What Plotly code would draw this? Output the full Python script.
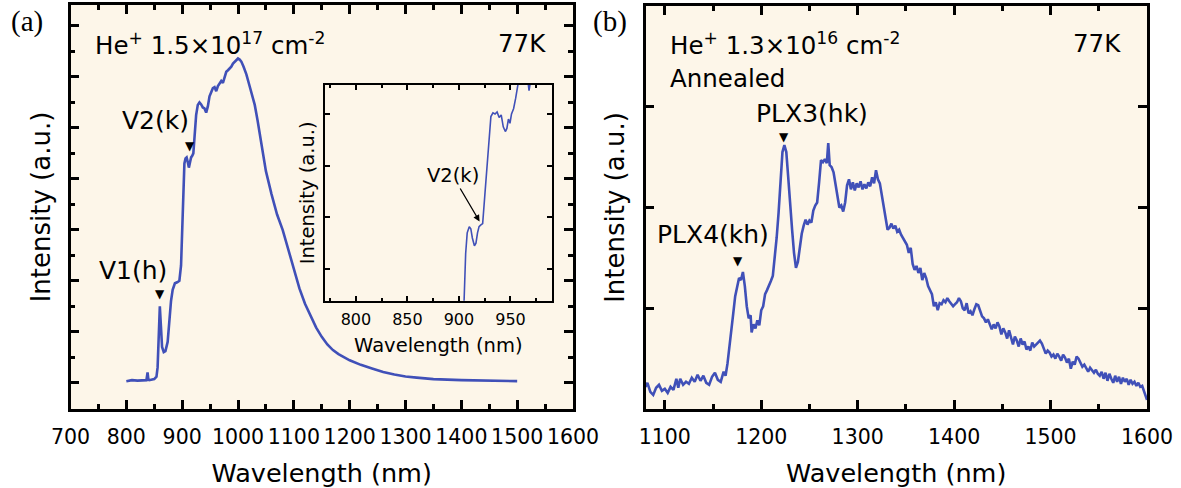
import plotly.graph_objects as go

# ---------------- data: panel (a) main spectrum ----------------
wl_a = [800, 810, 820, 830, 836, 838, 839.5, 841, 845, 850, 854, 856, 858, 860, 862, 864,
        867, 870, 874, 877, 880, 883, 887, 891, 895, 898, 900, 902, 904, 906, 908, 910,
        912, 914, 916, 918, 920, 922, 925, 928, 931, 934, 937, 940, 943, 946, 949, 952,
        955, 958, 961, 964, 967, 970, 973, 976, 979, 982, 985, 988, 991, 994, 997, 1000,
        1003, 1006, 1010, 1015, 1020, 1025, 1030, 1035, 1040, 1045, 1050, 1060, 1070, 1080,
        1090, 1100, 1110, 1120, 1130, 1140, 1150, 1160, 1170, 1180, 1200, 1220, 1240, 1260,
        1280, 1300, 1320, 1350, 1400, 1450, 1500]
int_a = [0.03, 0.05, 0.04, 0.05, 0.05, 0.20, 0.06, 0.05, 0.06, 0.07, 0.12, 0.30, 0.90, 1.50, 1.10, 0.70,
         0.60, 0.62, 0.80, 1.30, 1.60, 1.82, 1.95, 1.97, 2.00, 2.30, 3.00, 3.80, 4.30, 4.40, 4.42, 4.33,
         4.22, 4.32, 4.42, 4.45, 4.50, 4.80, 5.25, 5.45, 5.50, 5.46, 5.40, 5.38, 5.30, 5.42, 5.62, 5.70,
         5.78, 5.80, 5.72, 5.82, 5.86, 5.92, 5.88, 6.00, 6.10, 6.13, 6.16, 6.20, 6.26, 6.30, 6.32, 6.36,
         6.34, 6.30, 6.20, 6.05, 5.85, 5.65, 5.45, 5.15, 4.80, 4.50, 4.15, 3.70, 3.30, 3.00,
         2.60, 2.20, 1.85, 1.55, 1.30, 1.08, 0.90, 0.75, 0.64, 0.56, 0.44, 0.35, 0.28, 0.21,
         0.16, 0.12, 0.10, 0.07, 0.05, 0.04, 0.03]

# ---------------- data: inset of panel (a) ----------------
wl_in = [895, 900, 903, 905, 906.5, 908, 910, 911.5, 913, 915, 916.5, 918, 919.5, 921, 923,
         925, 927, 929, 931, 933, 935, 937, 939, 941, 943, 945, 946.5, 948, 949.5, 951, 953,
         955, 957, 960, 963, 966, 968, 970, 973, 976, 980, 985, 990]
int_in = [-2.0, -1.0, -0.3, 0.4, 1.3, 1.70, 1.82, 1.78, 1.60, 1.45, 1.50, 1.70, 1.82, 1.85, 1.88,
          2.40, 2.90, 3.50, 3.95, 4.02, 4.00, 4.04, 3.93, 3.98, 3.75, 3.66, 3.72, 3.90, 3.82, 4.00, 4.10,
          4.30, 4.56, 4.90, 5.00, 4.80, 4.45, 4.70, 4.90, 5.00, 5.10, 5.20, 5.30]

# ---------------- data: panel (b) ----------------
wl_b = [1080, 1082, 1085, 1088, 1091, 1094, 1097, 1100, 1103, 1106, 1109, 1112, 1114, 1116, 1119,
        1122, 1125, 1128, 1131, 1134, 1137, 1140, 1143, 1146, 1149, 1152, 1155, 1158, 1161, 1163,
        1165, 1167, 1169, 1171, 1173, 1175, 1177, 1179, 1181, 1183, 1185, 1187, 1189, 1190, 1192,
        1194, 1196, 1198, 1200, 1202, 1204, 1206, 1208, 1210, 1212, 1214, 1216, 1218, 1220, 1222,
        1224, 1226, 1228, 1230, 1232, 1234, 1236, 1238, 1240, 1242, 1244, 1246, 1248, 1250, 1252,
        1254, 1256, 1258, 1260, 1262, 1264, 1266, 1268, 1269.5, 1271, 1273, 1275, 1277, 1279, 1281,
        1283, 1285, 1287, 1289, 1291, 1293, 1295, 1297, 1299, 1301, 1303, 1305, 1307, 1309, 1311,
        1313, 1315, 1317, 1319, 1321, 1323, 1325, 1327, 1329, 1331, 1333, 1335, 1337, 1339, 1341,
        1343, 1345, 1347, 1349, 1351, 1353, 1355, 1357, 1359, 1361, 1363, 1365, 1367, 1369, 1371,
        1373, 1375, 1377, 1379, 1381, 1383, 1385, 1387, 1389, 1391, 1393, 1395, 1397, 1399, 1401,
        1403, 1405, 1407, 1409, 1411, 1413, 1415, 1417, 1419, 1421, 1423, 1425, 1427, 1429, 1431,
        1433, 1435, 1437, 1439, 1441, 1443, 1445, 1447, 1449, 1451, 1453, 1455, 1457, 1459, 1461,
        1463, 1465, 1467, 1469, 1471, 1473, 1475, 1477, 1479, 1481, 1483, 1485, 1487, 1489, 1491,
        1493, 1495, 1497, 1499, 1501, 1503, 1505, 1507, 1509, 1511, 1513, 1515, 1517, 1519, 1521,
        1523, 1525, 1527, 1529, 1531, 1533, 1535, 1537, 1539, 1541, 1543, 1545, 1547, 1549, 1551,
        1553, 1555, 1557, 1559, 1561, 1563, 1565, 1567, 1569, 1571, 1573, 1575, 1577, 1579, 1581,
        1583, 1585, 1587, 1589, 1591, 1593, 1595, 1597, 1599, 1600]
int_b = [0.22, 0.26, 0.17, 0.14, 0.21, 0.24, 0.18, 0.20, 0.16, 0.22, 0.19, 0.30, 0.21, 0.30, 0.24,
         0.27, 0.25, 0.31, 0.27, 0.34, 0.28, 0.33, 0.26, 0.24, 0.32, 0.36, 0.29, 0.27, 0.37, 0.33,
         0.45, 0.60, 0.76, 0.95, 1.12, 1.22, 1.30, 1.28, 1.36, 1.22, 1.02, 0.90, 0.93, 0.76, 0.84,
         0.80, 0.88, 0.83, 0.98, 1.02, 1.14, 1.18, 1.22, 1.27, 1.32, 1.48, 1.70, 1.95, 2.30, 2.55,
         2.62, 2.55, 2.30, 2.00, 1.78, 1.55, 1.40, 1.46, 1.62, 1.74, 1.82, 1.88, 1.83, 1.87, 1.85,
         1.97, 2.02, 2.05, 2.25, 2.47, 2.45, 2.48, 2.44, 2.64, 2.42, 2.40, 2.35, 2.22, 2.08, 2.00,
         2.02, 1.96, 2.05, 2.22, 2.28, 2.18, 2.25, 2.17, 2.24, 2.20, 2.26, 2.18, 2.23, 2.19, 2.25,
         2.21, 2.30, 2.24, 2.37, 2.28, 2.24, 2.12, 2.02, 1.92, 1.78, 1.80, 1.84, 1.79, 1.82, 1.76,
         1.78, 1.73, 1.70, 1.66, 1.63, 1.55, 1.60, 1.44, 1.38, 1.42, 1.35, 1.40, 1.28, 1.35, 1.30,
         1.22, 1.18, 1.14, 1.02, 1.06, 0.98, 1.05, 1.04, 1.08, 1.06, 1.10, 1.07, 1.05, 1.02, 1.04,
         1.06, 1.10, 1.07, 1.00, 0.98, 1.05, 0.95, 0.97, 0.93, 0.99, 1.04, 1.03, 0.98, 0.92, 0.90,
         0.86, 0.89, 0.84, 0.79, 0.84, 0.80, 0.86, 0.82, 0.74, 0.80, 0.76, 0.70, 0.78, 0.72, 0.64,
         0.72, 0.68, 0.62, 0.70, 0.64, 0.67, 0.59, 0.62, 0.58, 0.66, 0.62, 0.64, 0.67, 0.68, 0.65,
         0.60, 0.55, 0.58, 0.56, 0.52, 0.54, 0.50, 0.55, 0.52, 0.48, 0.54, 0.51, 0.46, 0.50, 0.40,
         0.47, 0.44, 0.52, 0.50, 0.45, 0.42, 0.44, 0.40, 0.37, 0.41, 0.38, 0.36, 0.39, 0.35, 0.33,
         0.37, 0.30, 0.36, 0.28, 0.35, 0.30, 0.26, 0.33, 0.27, 0.32, 0.25, 0.31, 0.27, 0.30, 0.24,
         0.29, 0.25, 0.27, 0.23, 0.26, 0.22, 0.23, 0.18, 0.12, 0.09]

# ---------------- style ----------------
BLUE = "#4050B8"
BG = "#FDF6E9"
FONT = "DejaVu Sans"
W, H = 1181, 488


def px_x(p):
    return p / W


def px_y(p):
    return 1 - p / H


fig = go.Figure()
fig.add_trace(go.Scatter(x=wl_a, y=int_a, mode="lines", line=dict(color=BLUE, width=2.6),
                         xaxis="x", yaxis="y", hoverinfo="skip"))
fig.add_trace(go.Scatter(x=wl_b, y=int_b, mode="lines", line=dict(color=BLUE, width=2.6),
                         xaxis="x2", yaxis="y2", hoverinfo="skip"))
fig.add_trace(go.Scatter(x=wl_in, y=int_in, mode="lines", line=dict(color=BLUE, width=1.6),
                         xaxis="x3", yaxis="y3", hoverinfo="skip"))

axis_common = dict(showline=True, linecolor="black", mirror="allticks", ticks="inside",
                   tickcolor="black", showgrid=False, zeroline=False, automargin=False)

fig.update_layout(
    width=W, height=H, margin=dict(l=0, r=0, t=0, b=0, autoexpand=False),
    paper_bgcolor="white", plot_bgcolor=BG, showlegend=False,
    font=dict(family=FONT, color="black"),
    xaxis=dict(**axis_common, domain=[px_x(70.5), px_x(573)], range=[700, 1600],
               tick0=700, dtick=100, ticklen=9, tickwidth=2.5, linewidth=2.5, tickangle=0,
               minor=dict(dtick=50, ticks="inside", ticklen=5, tickwidth=2.5, tickcolor="black"),
               tickfont=dict(size=20.5), ticklabelstandoff=8,
               title=dict(text="Wavelength (nm)", font=dict(size=25.5), standoff=20),
               anchor="y"),
    yaxis=dict(**axis_common, domain=[px_y(409), px_y(5)], range=[-0.516, 7.41],
               tick0=0, dtick=1, ticklen=9, tickwidth=2.5, linewidth=2.5, showticklabels=False,
               minor=dict(dtick=0.5, ticks="inside", ticklen=5, tickwidth=2.5, tickcolor="black"),
               title=dict(text="Intensity (a.u.)", font=dict(size=26), standoff=10),
               anchor="x"),
    xaxis2=dict(**axis_common, domain=[px_x(645.5), px_x(1147)], range=[1080, 1600],
                tick0=1100, dtick=100, ticklen=9, tickwidth=2.5, linewidth=2.5, tickangle=0,
                minor=dict(dtick=50, ticks="inside", ticklen=5, tickwidth=2.5, tickcolor="black"),
                tickfont=dict(size=20.5), ticklabelstandoff=8,
                title=dict(text="Wavelength (nm)", font=dict(size=25.5), standoff=20),
                anchor="y2"),
    yaxis2=dict(**axis_common, domain=[px_y(409), px_y(6)], range=[0, 4],
                tick0=0, dtick=1, ticklen=9, tickwidth=2.5, linewidth=2.5, showticklabels=False,
                title=dict(text="Intensity (a.u.)", font=dict(size=26), standoff=11),
                anchor="x2"),
    xaxis3=dict(**axis_common, domain=[px_x(325), px_x(551.7)], range=[770, 990],
                tick0=800, dtick=50, ticklen=5, tickwidth=1.5, linewidth=2, tickangle=0,
                minor=dict(dtick=25, ticks="inside", ticklen=3, tickwidth=1.5, tickcolor="black"),
                tickfont=dict(size=16), ticklabelstandoff=3,
                title=dict(text="Wavelength (nm)", font=dict(size=19.5), standoff=10),
                anchor="y3"),
    yaxis3=dict(**axis_common, domain=[px_y(300.7), px_y(85)], range=[0.387, 4.56],
                tick0=0, dtick=1, ticklen=5, tickwidth=1.5, linewidth=2, showticklabels=False,
                title=dict(text="Intensity (a.u.)", font=dict(size=19.5), standoff=3),
                anchor="x3"),
)


def note(text, x, y, size, xref="paper", yref="paper", xanchor="center", family=None):
    f = dict(size=size)
    if family:
        f["family"] = family
    return dict(text=text, xref=xref, yref=yref, x=x, y=y, xanchor=xanchor, yanchor="middle",
                showarrow=False, font=f, borderpad=0)


ann = []
# panel letters
ann.append(note("(a)", px_x(27), px_y(22), 29, family="Liberation Serif"))
ann.append(note("(b)", px_x(610), px_y(22), 29, family="Liberation Serif"))
# header texts
ann.append(note("He<sup>+</sup> 1.5×10<sup>17</sup> cm<sup>-2</sup>", px_x(94), px_y(44), 24.5, xanchor="left"))
ann.append(note("77K", px_x(522), px_y(44), 24.5))
ann.append(note("He<sup>+</sup> 1.3×10<sup>16</sup> cm<sup>-2</sup>", px_x(669), px_y(44), 24.5, xanchor="left"))
ann.append(note("Annealed", px_x(669), px_y(78), 24.5, xanchor="left"))
ann.append(note("77K", px_x(1097), px_y(44), 24.5))

# peak labels panel (a)
ann.append(note("V1(h)", 812, 2.21, 25, xref="x", yref="y"))
ann.append(note("▼", 860.3, 1.74, 12, xref="x", yref="y"))
ann.append(note("V2(k)", 853, 5.15, 25, xref="x", yref="y"))
ann.append(note("▼", 914, 4.64, 12, xref="x", yref="y"))
# inset label with arrow
ann.append(dict(text="V2(k)", xref="x3", yref="y3", x=920, y=1.92, ax=-27, ay=-46,
                showarrow=True, arrowhead=2, arrowsize=1, arrowwidth=1.3, arrowcolor="black",
                font=dict(size=19.5)))
# peak labels panel (b)
ann.append(note("PLX3(hk)", 1252.5, 2.93, 25, xref="x2", yref="y2"))
ann.append(note("▼", 1223.5, 2.70, 12, xref="x2", yref="y2"))
ann.append(note("PLX4(kh)", 1149.8, 1.73, 25, xref="x2", yref="y2"))
ann.append(note("▼", 1176, 1.47, 12, xref="x2", yref="y2"))

fig.update_layout(annotations=ann)
fig.write_html("out.html", config={"displayModeBar": False},
               post_script="document.body.style.margin='0';document.body.style.overflow='hidden';")
